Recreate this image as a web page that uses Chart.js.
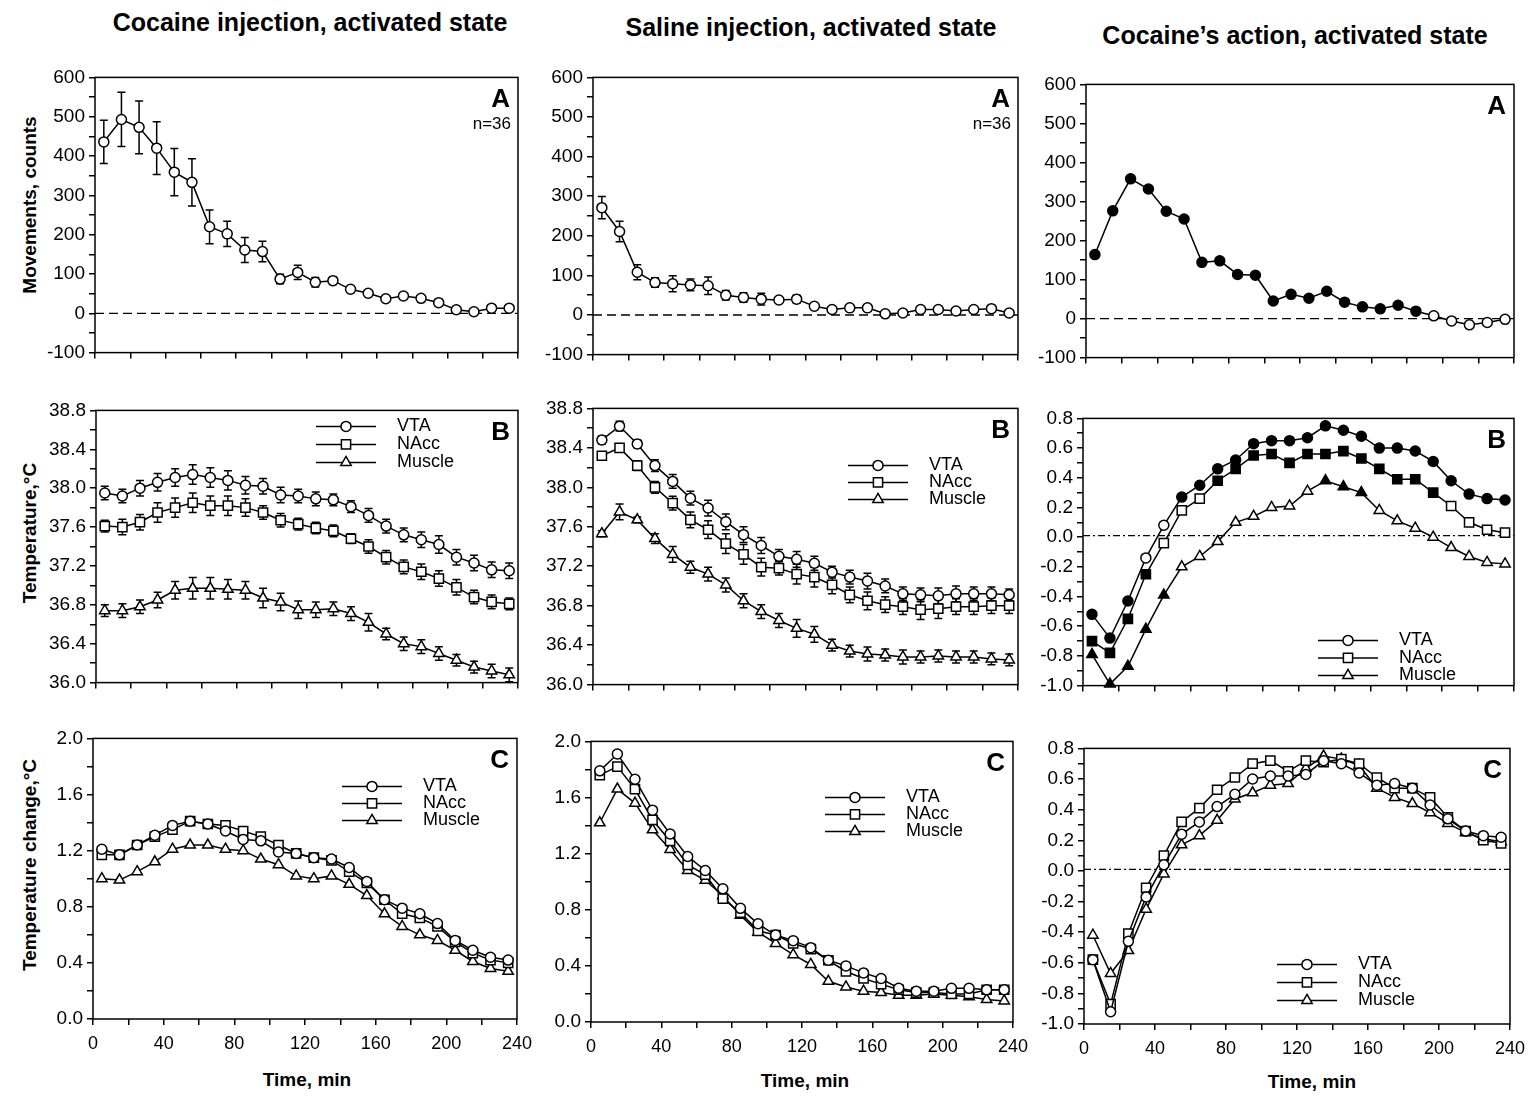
<!DOCTYPE html>
<html>
<head>
<meta charset="utf-8">
<script src="https://cdn.jsdelivr.net/npm/chart.js@4.4.0/dist/chart.umd.min.js"></script>
<style>
  body { margin: 0; background: #fff; font-family: "Liberation Sans", Arial, sans-serif; color: #000; }
  #page { position: relative; width: 1533px; height: 1096px; overflow: hidden; }
  #page canvas { position: absolute; }
  .title  { position: absolute; font-weight: bold; font-size: 25px; white-space: nowrap; transform: translateX(-50%); }
  .ytitle { position: absolute; font-weight: bold; font-size: 19px; white-space: nowrap; transform: translate(-50%, -50%) rotate(-90deg); }
  .xtitle { position: absolute; font-weight: bold; font-size: 19px; white-space: nowrap; transform: translate(-50%, -50%); }
</style>
</head>
<body>
<div id="page">
  <div class="title" style="left:310px; top:8px;">Cocaine injection, activated state</div>
  <div class="title" style="left:811px; top:13px;">Saline injection, activated state</div>
  <div class="title" style="left:1295px; top:21px;">Cocaine’s action, activated state</div>

  <div class="ytitle" style="left:30px; top:205px;">Movements, counts</div>
  <div class="ytitle" style="left:30px; top:533px;">Temperature,°C</div>
  <div class="ytitle" style="left:30px; top:865px;">Temperature change,°C</div>

  <div class="xtitle" style="left:307px; top:1080px;">Time, min</div>
  <div class="xtitle" style="left:805px; top:1081px;">Time, min</div>
  <div class="xtitle" style="left:1312px; top:1082px;">Time, min</div>
</div>

<script>
'use strict';

// ── data (10-min bins, minutes after injection) ──
const TIME = [5, 15, 25, 35, 45, 55, 65, 75, 85, 95, 105, 115, 125, 135, 145, 155, 165, 175, 185, 195, 205, 215, 225, 235];
const SERIES_NAMES = ['VTA', 'NAcc', 'Muscle'];

// A: locomotion, counts
const A1_MOV = [436, 493, 473, 420, 359, 333, 220, 202, 161, 157, 87, 104, 79, 83, 61, 51, 37, 44, 38, 27, 9, 4, 13, 13];
const A1_ERR = [55, 69, 67, 67, 60, 60, 43, 32, 32, 26, 12, 18, 12, 10, 6, 5, 5, 5, 8, 8, 5, 3, 5, 5];
const A2_MOV = [271, 211, 108, 82, 79, 76, 74, 50, 44, 40, 38, 40, 22, 14, 18, 18, 3, 5, 14, 14, 10, 14, 16, 5];
const A2_ERR = [28, 26, 19, 12, 20, 15, 22, 12, 12, 15, 8, 10, 6, 6, 6, 6, 5, 5, 6, 6, 6, 6, 6, 4];
const A3_MOV = [164, 276, 358, 332, 275, 255, 144, 148, 113, 111, 45, 62, 52, 70, 42, 30, 25, 34, 19, 7, -6, -16, -10, -2];
const A3_SIG = [1, 1, 1, 1, 1, 1, 1, 1, 1, 1, 1, 1, 1, 1, 1, 1, 1, 1, 1, 0, 0, 0, 0, 0];

// B: absolute temperature, °C
const B1_VTA  = [37.95, 37.92, 38.00, 38.06, 38.11, 38.14, 38.11, 38.08, 38.03, 38.02, 37.93, 37.92, 37.89, 37.88, 37.81, 37.72, 37.61, 37.52, 37.47, 37.42, 37.29, 37.23, 37.16, 37.15];
const B1_NACC = [37.61, 37.60, 37.65, 37.75, 37.80, 37.85, 37.82, 37.82, 37.80, 37.75, 37.67, 37.63, 37.59, 37.56, 37.48, 37.40, 37.29, 37.19, 37.14, 37.07, 36.98, 36.88, 36.83, 36.81];
const B1_MUS  = [36.74, 36.74, 36.78, 36.85, 36.95, 36.97, 36.97, 36.96, 36.95, 36.87, 36.83, 36.75, 36.75, 36.76, 36.71, 36.62, 36.50, 36.40, 36.37, 36.30, 36.23, 36.16, 36.12, 36.08];
const B1_VTA_ERR  = [0.07, 0.07, 0.08, 0.09, 0.09, 0.10, 0.10, 0.10, 0.09, 0.08, 0.08, 0.07, 0.07, 0.06, 0.06, 0.07, 0.07, 0.07, 0.08, 0.09, 0.08, 0.08, 0.08, 0.08];
const B1_NACC_ERR = [0.06, 0.08, 0.08, 0.10, 0.10, 0.10, 0.10, 0.10, 0.09, 0.07, 0.07, 0.06, 0.06, 0.06, 0.05, 0.07, 0.07, 0.07, 0.08, 0.08, 0.08, 0.07, 0.07, 0.06];
const B1_MUS_ERR  = [0.06, 0.07, 0.07, 0.08, 0.09, 0.11, 0.11, 0.10, 0.09, 0.10, 0.09, 0.09, 0.08, 0.07, 0.07, 0.09, 0.06, 0.07, 0.07, 0.07, 0.06, 0.06, 0.07, 0.07];

const B2_VTA  = [38.48, 38.62, 38.44, 38.22, 38.06, 37.89, 37.79, 37.65, 37.52, 37.41, 37.30, 37.27, 37.23, 37.14, 37.09, 37.05, 37.00, 36.92, 36.91, 36.90, 36.92, 36.92, 36.92, 36.91];
const B2_NACC = [38.32, 38.40, 38.22, 38.00, 37.84, 37.67, 37.57, 37.43, 37.32, 37.19, 37.18, 37.12, 37.09, 37.01, 36.91, 36.85, 36.81, 36.79, 36.76, 36.77, 36.79, 36.79, 36.80, 36.80];
const B2_MUS  = [37.53, 37.75, 37.67, 37.48, 37.32, 37.19, 37.12, 37.01, 36.85, 36.74, 36.65, 36.57, 36.51, 36.40, 36.34, 36.31, 36.30, 36.28, 36.28, 36.29, 36.28, 36.28, 36.26, 36.25];
const B2_VTA_ERR  = [0.04, 0.05, 0.04, 0.06, 0.07, 0.07, 0.08, 0.08, 0.08, 0.08, 0.07, 0.08, 0.07, 0.06, 0.07, 0.08, 0.07, 0.07, 0.07, 0.08, 0.08, 0.07, 0.07, 0.06];
const B2_NACC_ERR = [0.03, 0.04, 0.05, 0.06, 0.07, 0.08, 0.09, 0.10, 0.10, 0.09, 0.07, 0.10, 0.10, 0.09, 0.08, 0.09, 0.08, 0.08, 0.10, 0.10, 0.08, 0.08, 0.08, 0.08];
const B2_MUS_ERR  = [0.03, 0.08, 0.03, 0.05, 0.08, 0.06, 0.07, 0.07, 0.07, 0.07, 0.07, 0.09, 0.08, 0.06, 0.06, 0.07, 0.06, 0.07, 0.06, 0.06, 0.06, 0.06, 0.06, 0.06];

const B3_VTA  = [-0.52, -0.68, -0.43, -0.14, 0.08, 0.27, 0.35, 0.46, 0.52, 0.63, 0.65, 0.65, 0.67, 0.75, 0.72, 0.68, 0.60, 0.60, 0.58, 0.51, 0.38, 0.29, 0.26, 0.25];
const B3_NACC = [-0.70, -0.78, -0.55, -0.25, -0.04, 0.18, 0.26, 0.38, 0.46, 0.55, 0.56, 0.50, 0.56, 0.56, 0.58, 0.53, 0.46, 0.39, 0.39, 0.30, 0.21, 0.10, 0.05, 0.03];
const B3_MUS  = [-0.79, -0.99, -0.87, -0.62, -0.39, -0.20, -0.13, -0.03, 0.10, 0.14, 0.20, 0.21, 0.31, 0.38, 0.34, 0.30, 0.18, 0.11, 0.06, 0.00, -0.07, -0.13, -0.17, -0.18];
const B3_VTA_SIG  = [1, 1, 1, 0, 0, 1, 1, 1, 1, 1, 1, 1, 1, 1, 1, 1, 1, 1, 1, 1, 1, 1, 1, 1];
const B3_NACC_SIG = [1, 1, 1, 1, 0, 0, 0, 1, 1, 1, 1, 1, 1, 1, 1, 1, 1, 1, 1, 1, 0, 0, 0, 0];
const B3_MUS_SIG  = [1, 1, 1, 1, 1, 0, 0, 0, 0, 0, 0, 0, 0, 1, 1, 1, 0, 0, 0, 0, 0, 0, 0, 0];

// C: temperature change from baseline, °C
const C1_VTA  = [1.21, 1.17, 1.24, 1.31, 1.38, 1.41, 1.39, 1.34, 1.28, 1.27, 1.19, 1.18, 1.15, 1.14, 1.08, 0.98, 0.85, 0.79, 0.75, 0.68, 0.56, 0.49, 0.44, 0.42];
const C1_NACC = [1.17, 1.17, 1.24, 1.30, 1.35, 1.41, 1.39, 1.38, 1.34, 1.30, 1.24, 1.18, 1.15, 1.13, 1.05, 0.97, 0.85, 0.75, 0.72, 0.66, 0.55, 0.47, 0.42, 0.40];
const C1_MUS  = [1.00, 0.99, 1.05, 1.12, 1.21, 1.24, 1.24, 1.21, 1.20, 1.14, 1.10, 1.02, 1.00, 1.02, 0.96, 0.88, 0.75, 0.66, 0.60, 0.56, 0.49, 0.41, 0.36, 0.34];

const C2_VTA  = [1.79, 1.91, 1.73, 1.51, 1.34, 1.18, 1.08, 0.95, 0.81, 0.70, 0.62, 0.58, 0.53, 0.44, 0.40, 0.35, 0.31, 0.24, 0.22, 0.22, 0.24, 0.24, 0.23, 0.23];
const C2_NACC = [1.76, 1.82, 1.66, 1.44, 1.29, 1.12, 1.05, 0.88, 0.78, 0.65, 0.62, 0.56, 0.52, 0.44, 0.36, 0.31, 0.27, 0.23, 0.21, 0.21, 0.20, 0.20, 0.23, 0.23];
const C2_MUS  = [1.42, 1.66, 1.56, 1.37, 1.23, 1.08, 1.01, 0.90, 0.76, 0.64, 0.56, 0.48, 0.41, 0.29, 0.25, 0.22, 0.21, 0.19, 0.19, 0.20, 0.19, 0.18, 0.16, 0.15];

const C3_VTA  = [-0.58, -0.92, -0.46, -0.17, 0.04, 0.24, 0.32, 0.42, 0.50, 0.60, 0.62, 0.62, 0.63, 0.72, 0.70, 0.64, 0.56, 0.57, 0.54, 0.43, 0.34, 0.26, 0.23, 0.22];
const C3_NACC = [-0.58, -0.87, -0.41, -0.11, 0.10, 0.32, 0.41, 0.53, 0.61, 0.70, 0.72, 0.65, 0.72, 0.71, 0.73, 0.70, 0.61, 0.54, 0.54, 0.48, 0.35, 0.26, 0.20, 0.18];
const C3_MUS  = [-0.42, -0.67, -0.52, -0.25, -0.02, 0.17, 0.23, 0.33, 0.47, 0.51, 0.56, 0.57, 0.67, 0.75, 0.73, 0.69, 0.54, 0.48, 0.44, 0.38, 0.31, 0.25, 0.21, 0.19];

// ── drawing setup ──
const FONT = '"Liberation Sans", Arial, sans-serif';
const AX_W = 60;       // room for y tick labels
const PAD_T = 12;
const PAD_R = 22;
const KEY_LEN = 60;
const RADIUS = { circle: 5, rect: 6.5, triangle: 6 };

function drawMarker(ctx, style, x, y, r, fill) {
  ctx.beginPath();
  if (style === 'circle') {
    ctx.arc(x, y, r, 0, Math.PI * 2);
  } else if (style === 'rect') {
    const s = r * Math.SQRT1_2;
    ctx.rect(x - s, y - s, 2 * s, 2 * s);
  } else {
    for (let k = 0; k < 3; k++) {
      const a = k * 2 * Math.PI / 3;
      const px = x + Math.sin(a) * r, py = y - Math.cos(a) * r;
      if (k === 0) ctx.moveTo(px, py); else ctx.lineTo(px, py);
    }
    ctx.closePath();
  }
  ctx.fillStyle = fill;
  ctx.fill();
  ctx.stroke();
}

const framePlugin = {
  id: 'frame',
  afterDatasetsDraw(chart) {
    const { ctx, chartArea: a } = chart;
    ctx.save();
    ctx.strokeStyle = '#000';
    ctx.lineWidth = 1.5;
    ctx.strokeRect(a.left, a.top, a.right - a.left, a.bottom - a.top);
    ctx.restore();
  },
};

const refLinePlugin = {
  id: 'refLine',
  beforeDatasetsDraw(chart, args, o) {
    if (o.value === undefined) return;
    const { ctx, chartArea: a, scales: { y } } = chart;
    const py = y.getPixelForValue(o.value);
    ctx.save();
    ctx.strokeStyle = '#000';
    ctx.lineWidth = 1.3;
    ctx.setLineDash(o.dash);
    ctx.beginPath();
    ctx.moveTo(a.left, py);
    ctx.lineTo(a.right, py);
    ctx.stroke();
    ctx.restore();
  },
};

const errBarsPlugin = {
  id: 'errBars',
  beforeDatasetsDraw(chart, args, o) {
    if (!o.errs) return;
    const { ctx, scales: { x, y } } = chart;
    ctx.save();
    ctx.strokeStyle = '#000';
    ctx.lineWidth = 1.5;
    chart.data.datasets.forEach((ds, i) => {
      const e = o.errs[i];
      if (!e) return;
      ds.data.forEach((v, j) => {
        const px = x.getPixelForValue(TIME[j]);
        const y1 = y.getPixelForValue(v + e[j]);
        const y2 = y.getPixelForValue(v - e[j]);
        ctx.beginPath();
        ctx.moveTo(px, y1); ctx.lineTo(px, y2);
        ctx.moveTo(px - 4, y1); ctx.lineTo(px + 4, y1);
        ctx.moveTo(px - 4, y2); ctx.lineTo(px + 4, y2);
        ctx.stroke();
      });
    });
    ctx.restore();
  },
};

const tagPlugin = {
  id: 'tag',
  afterDraw(chart, args, o) {
    if (!o.letter) return;
    const { ctx, chartArea: a } = chart;
    ctx.save();
    ctx.fillStyle = '#000';
    ctx.textAlign = 'right';
    ctx.textBaseline = 'middle';
    ctx.font = 'bold 26px ' + FONT;
    ctx.fillText(o.letter, a.right - 8, a.top + 22);
    if (o.note) {
      ctx.font = '17px ' + FONT;
      ctx.fillText(o.note, a.right - 7, a.top + 47);
    }
    ctx.restore();
  },
};

const keyPlugin = {
  id: 'seriesKey',
  afterDraw(chart, args, o) {
    if (o.x === undefined) return;
    const { ctx, chartArea: a } = chart;
    ctx.save();
    ctx.strokeStyle = '#000';
    ctx.lineWidth = 1.5;
    chart.data.datasets.forEach((ds, i) => {
      const x0 = a.left + o.x;
      const y = a.top + o.y + i * o.gap;
      ctx.beginPath();
      ctx.moveTo(x0, y);
      ctx.lineTo(x0 + KEY_LEN, y);
      ctx.stroke();
      drawMarker(ctx, ds.pointStyle, x0 + KEY_LEN / 2, y, ds.pointRadius, '#fff');
      ctx.fillStyle = '#000';
      ctx.font = '18px ' + FONT;
      ctx.textAlign = 'left';
      ctx.textBaseline = 'middle';
      ctx.fillText(SERIES_NAMES[i], x0 + 81, y);
    });
    ctx.restore();
  },
};

Chart.register(framePlugin, refLinePlugin, errBarsPlugin, tagPlugin, keyPlugin);

function series(values, style, sig) {
  return {
    data: values,
    pointStyle: style,
    pointRadius: RADIUS[style],
    borderColor: '#000',
    borderWidth: 1.5,
    pointBorderColor: '#000',
    pointBorderWidth: 1.5,
    pointBackgroundColor: sig ? sig.map(s => (s ? '#000' : '#fff')) : '#fff',
    tension: 0,
    clip: false,
  };
}

const isMajor = (v, step) => Math.abs(v / step - Math.round(v / step)) < 1e-6;

const DASHED = { value: 0, dash: [9, 5] };
const DASHDOT = { value: 0.01, dash: [7, 3, 2, 3] };

const PANELS = [
  { box: { l: 95, t: 74, r: 518, b: 360 }, y: [-100, 600, 50, 100, 0], xLabels: false,
    sets: [series(A1_MOV, 'circle')], errs: [A1_ERR], ref: DASHED, tag: { letter: 'A', note: 'n=36' } },
  { box: { l: 593, t: 74, r: 1018, b: 362 }, y: [-100, 600, 50, 100, 0], xLabels: false,
    sets: [series(A2_MOV, 'circle')], errs: [A2_ERR], ref: DASHED, tag: { letter: 'A', note: 'n=36' } },
  { box: { l: 1086, t: 81, r: 1514, b: 365 }, y: [-100, 600, 50, 100, 0], xLabels: false,
    sets: [series(A3_MOV, 'circle', A3_SIG)], ref: DASHED, tag: { letter: 'A' } },

  { box: { l: 96, t: 407, r: 518, b: 690 }, y: [36, 38.8, 0.2, 0.4, 1], xLabels: false,
    sets: [series(B1_VTA, 'circle'), series(B1_NACC, 'rect'), series(B1_MUS, 'triangle')],
    errs: [B1_VTA_ERR, B1_NACC_ERR, B1_MUS_ERR], tag: { letter: 'B' }, key: { x: 220, y: 16, gap: 18 } },
  { box: { l: 593, t: 405, r: 1018, b: 692 }, y: [36, 38.8, 0.2, 0.4, 1], xLabels: false,
    sets: [series(B2_VTA, 'circle'), series(B2_NACC, 'rect'), series(B2_MUS, 'triangle')],
    errs: [B2_VTA_ERR, B2_NACC_ERR, B2_MUS_ERR], tag: { letter: 'B' }, key: { x: 255, y: 57, gap: 17 } },
  { box: { l: 1083, t: 415, r: 1514, b: 693 }, y: [-1, 0.8, 0.1, 0.2, 1], xLabels: false,
    sets: [series(B3_VTA, 'circle', B3_VTA_SIG), series(B3_NACC, 'rect', B3_NACC_SIG), series(B3_MUS, 'triangle', B3_MUS_SIG)],
    ref: DASHDOT, tag: { letter: 'B' }, key: { x: 235, y: 222, gap: 17.5 } },

  { box: { l: 93, t: 735, r: 518, b: 1019 }, y: [0, 2, 0.2, 0.4, 1], xLabels: true,
    sets: [series(C1_VTA, 'circle'), series(C1_NACC, 'rect'), series(C1_MUS, 'triangle')],
    tag: { letter: 'C' }, key: { x: 249, y: 48, gap: 17 } },
  { box: { l: 591, t: 738, r: 1014, b: 1022 }, y: [0, 2, 0.2, 0.4, 1], xLabels: true,
    sets: [series(C2_VTA, 'circle'), series(C2_NACC, 'rect'), series(C2_MUS, 'triangle')],
    tag: { letter: 'C' }, key: { x: 234, y: 56, gap: 17 } },
  { box: { l: 1084, t: 745, r: 1511, b: 1024 }, y: [-1, 0.8, 0.1, 0.2, 1], xLabels: true,
    sets: [series(C3_VTA, 'circle'), series(C3_NACC, 'rect'), series(C3_MUS, 'triangle')],
    ref: DASHDOT, tag: { letter: 'C' }, key: { x: 193, y: 216, gap: 18 } },
];

const page = document.getElementById('page');

PANELS.forEach(p => {
  const xh = p.xLabels ? 36 : 8;
  const w = p.box.r - p.box.l + AX_W + PAD_R;
  const h = p.box.b - p.box.t + PAD_T + xh;
  const canvas = document.createElement('canvas');
  canvas.width = w;
  canvas.height = h;
  canvas.style.left = (p.box.l - AX_W) + 'px';
  canvas.style.top = (p.box.t - PAD_T) + 'px';
  canvas.style.width = w + 'px';
  canvas.style.height = h + 'px';
  page.appendChild(canvas);

  const [ymin, ymax, minor, major, dp] = p.y;
  const grid = { drawOnChartArea: false, drawTicks: true, tickLength: 6, color: '#000', lineWidth: 1.5 };

  new Chart(canvas, {
    type: 'line',
    data: { labels: TIME, datasets: p.sets },
    options: {
      responsive: false,
      animation: false,
      devicePixelRatio: 1,
      layout: { padding: { left: 0, top: PAD_T, right: PAD_R, bottom: 0 } },
      plugins: {
        legend: { display: false },
        tooltip: { enabled: false },
        refLine: p.ref || {},
        errBars: { errs: p.errs },
        tag: p.tag || {},
        seriesKey: p.key || {},
      },
      scales: {
        x: {
          type: 'linear', min: 0, max: 240,
          border: { display: false },
          grid,
          ticks: {
            stepSize: 20, autoSkip: false, maxRotation: 0, padding: 8,
            color: '#000', font: { family: FONT, size: 18 },
            callback: v => (p.xLabels && v % 40 === 0 ? String(v) : ''),
          },
          afterFit: s => { s.height = xh; },
        },
        y: {
          min: ymin, max: ymax,
          border: { display: false },
          grid,
          ticks: {
            stepSize: minor, autoSkip: false, padding: 4,
            color: '#000', font: { family: FONT, size: 19 },
            callback: v => (isMajor(v, major) ? v.toFixed(dp) : ''),
          },
          afterFit: s => { s.width = AX_W; },
        },
      },
    },
  });
});
</script>
</body>
</html>
